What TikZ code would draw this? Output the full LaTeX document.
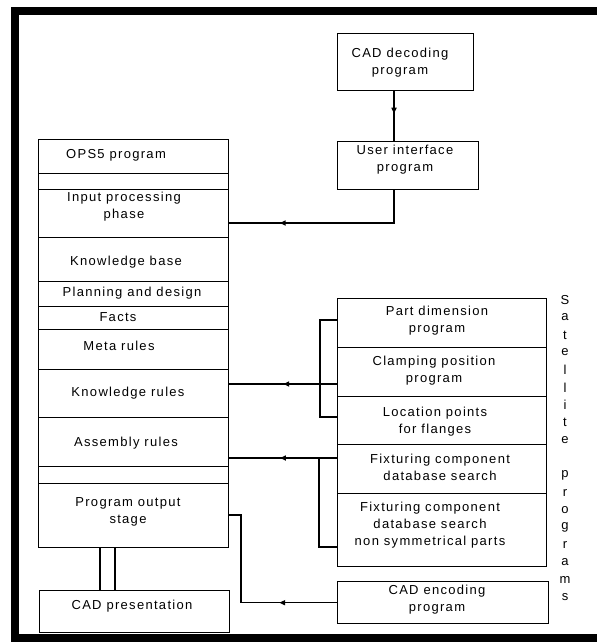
\documentclass[tikz,border=0pt]{standalone}
\usepackage{fontspec}
\setmainfont{Liberation Sans}[LetterSpace=10]
\usetikzlibrary{arrows.meta,decorations.markings}
\tikzset{
  box/.style={draw, line width=1.4pt, inner sep=0pt, anchor=north west},
  lbl/.style={font=\fontsize{13}{17}\selectfont, align=center, inner sep=0pt},
  conn/.style={line width=1.5pt},
  midarrow/.style={postaction={decorate},decoration={markings,
    mark=at position #1 with {\arrow{Triangle[length=6pt,width=5pt]}}}},
  vlet/.style={font=\fontsize{13}{13}\selectfont, inner sep=0pt}
}
\begin{document}
\begin{tikzpicture}[x=1pt,y=-1pt]
\useasboundingbox (0,0) rectangle (597,642);
% frame
\fill (11,7) rectangle (19,642);
\fill (11,7) rectangle (597,15);
\fill (11,634) rectangle (597,642);

% OPS5 stack
\node[box, minimum width=190pt, minimum height=34pt] (ops) at (38,139) {};
\node[lbl] at (116,155) {OPS5 program};
\node[box, minimum width=190pt, minimum height=16pt] (blank1) at (38,173) {};
\node[box, minimum width=190pt, minimum height=48pt] (inp) at (38,189) {};
\node[lbl] at (124,207) {Input processing\\phase};
\node[box, minimum width=190pt, minimum height=44pt] (kb) at (38,237) {};
\node[lbl] at (126,262) {Knowledge base};
\node[box, minimum width=190pt, minimum height=25pt] (pd) at (38,281) {};
\node[lbl] at (132,293) {Planning and design};
\node[box, minimum width=190pt, minimum height=23pt] (facts) at (38,306) {};
\node[lbl] at (118,317) {Facts};
\node[box, minimum width=190pt, minimum height=40pt] (meta) at (38,329) {};
\node[lbl] at (119,346) {Meta rules};
\node[box, minimum width=190pt, minimum height=48pt] (kr) at (38,369) {};
\node[lbl] at (128,393) {Knowledge rules};
\node[box, minimum width=190pt, minimum height=49pt] (ar) at (38,417) {};
\node[lbl] at (126,443) {Assembly rules};
\node[box, minimum width=190pt, minimum height=17pt] (blank2) at (38,466) {};
\node[box, minimum width=190pt, minimum height=64pt] (pos) at (38,483) {};
\node[lbl] at (128,512) {Program output\\stage};
\node[box, minimum width=190pt, minimum height=42pt] (cadp) at (39,590) {};
\node[lbl] at (132,606) {CAD presentation};

% top right
\node[box, minimum width=136pt, minimum height=57pt] (dec) at (337,33) {};
\node[lbl] at (400,63) {CAD decoding\\program};
\node[box, minimum width=141pt, minimum height=48pt] (ui) at (337,141) {};
\node[lbl] at (405,160) {User interface\\program};

% satellite programs
\node[box, minimum width=209pt, minimum height=49pt] (pdim) at (337,298) {};
\node[lbl] at (437,321) {Part dimension\\program};
\node[box, minimum width=209pt, minimum height=49pt] (clamp) at (337,347) {};
\node[lbl] at (434,371) {Clamping position\\program};
\node[box, minimum width=209pt, minimum height=48pt] (loc) at (337,396) {};
\node[lbl] at (435,422) {Location points\\for flanges};
\node[box, minimum width=209pt, minimum height=49pt] (fix) at (337,444) {};
\node[lbl] at (440,467) {Fixturing component\\database search};
\node[box, minimum width=209pt, minimum height=73pt] (fixn) at (337,493) {};
\node[lbl] at (430,525) {Fixturing component\\database search\\non symmetrical parts};
\node[box, minimum width=211pt, minimum height=42pt] (enc) at (337,581) {};
\node[lbl] at (437,600) {CAD encoding\\program};

% vertical caption
\foreach \ch [count=\i from 0] in {S,a,t,e,l,l,i,t,e,{},p,r,o,g,r,a,m,s}{
  \node[vlet] at (565,{300+17.5*\i}) {\ch};
}

% helper coordinates
\coordinate (x394) at (394,0);
\coordinate (x320) at (320,0);
\coordinate (x319) at (319,0);
\coordinate (x241) at (241,0);
\coordinate (x100) at (100,0);
\coordinate (x115) at (115,0);
\coordinate (y223) at (0,223);
\coordinate (y320) at (0,320);
\coordinate (y384) at (0,384);
\coordinate (y417) at (0,417);
\coordinate (y458) at (0,458);
\coordinate (y547) at (0,547);
\coordinate (y515) at (0,515);

% connectors
\draw[conn, midarrow=0.45] (dec.south -| x394) -- (ui.north -| x394);
\draw[conn, midarrow=0.745] (ui.south -| x394) |- (inp.east |- y223);
\draw[conn, midarrow=0.5] (clamp.west |- y384) -- (kr.east |- y384);
\draw[conn] (pdim.west |- y320) -| (x320 |- y417) -- (loc.west |- y417);
\draw[conn, midarrow=0.53] (fix.west |- y458) -- (ar.east |- y458);
\draw[conn] (x319 |- y458) |- (fixn.west |- y547);
\draw[conn, midarrow=0.296] (enc.west) -| (x241 |- y515) -- (pos.east |- y515);
\draw[conn] (pos.south -| x100) -- (cadp.north -| x100);
\draw[conn] (pos.south -| x115) -- (cadp.north -| x115);
\end{tikzpicture}
\end{document}
